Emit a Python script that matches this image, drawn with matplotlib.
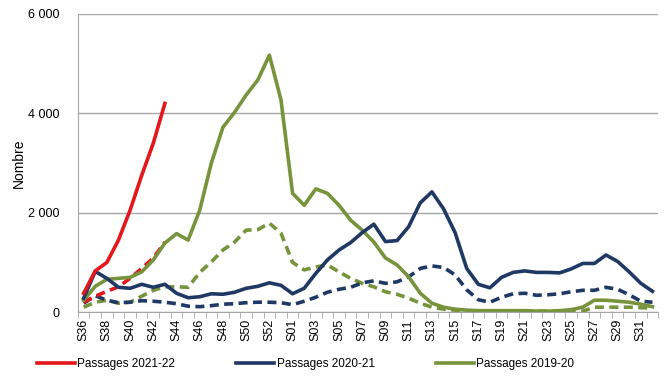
import matplotlib
matplotlib.use("Agg")
import matplotlib.pyplot as plt
from matplotlib.ticker import FuncFormatter, FixedLocator
import numpy as np

plt.rcParams['font.family'] = ['Liberation Sans', 'DejaVu Sans']

weeks = ['S%02d' % w for w in range(36, 54)] + ['S%02d' % w for w in range(1, 33)]

# passages (solid) and second indicator (dashed)
red_solid = [380, 830, 1000, 1450, 2050, 2750, 3400, 4200]
red_dashed = [200, 320, 420, 510, 680, 880, 1090, 1410]

navy_solid = [280, 820, 680, 500, 480, 560, 500, 560, 380, 290,
              310, 370, 360, 400, 480, 520, 590, 540, 370, 480,
              780, 1050, 1250, 1400, 1600, 1770, 1420, 1440, 1720, 2200,
              2420, 2080, 1600, 880, 560, 490, 700, 800, 830, 800,
              800, 790, 870, 980, 980, 1150, 1020, 810, 580, 420]
navy_dashed = [180, 330, 240, 190, 200, 230, 220, 200, 170, 120,
               110, 130, 160, 170, 190, 200, 200, 190, 150, 220,
               300, 400, 460, 500, 590, 630, 580, 610, 710, 880,
               930, 900, 750, 450, 250, 200, 300, 370, 380, 340,
               350, 370, 410, 440, 440, 500, 460, 350, 220, 200]

green_solid = [240, 520, 660, 680, 700, 810, 1050, 1390, 1580, 1450,
               2050, 3000, 3720, 4020, 4370, 4670, 5170, 4270, 2390, 2150,
               2480, 2390, 2150, 1850, 1650, 1410, 1090, 950, 710, 380,
               180, 100, 60, 40, 30, 30, 30, 30, 30, 20,
               20, 30, 50, 100, 240, 240, 220, 200, 160, 110]
green_dashed = [100, 200, 240, 180, 200, 320, 440, 510, 510, 500,
                800, 1010, 1250, 1410, 1650, 1660, 1790, 1590, 1000, 850,
                910, 950, 810, 680, 580, 510, 410, 360, 280, 180,
                100, 60, 40, 30, 20, 20, 20, 20, 20, 20,
                20, 20, 20, 20, 100, 100, 100, 100, 90, 80]

RED = '#e3171c'
NAVY = '#1f3864'
GREEN = '#77933c'

fig = plt.figure(figsize=(6.71, 3.77), dpi=100)
ax = fig.add_axes([0.116, 0.172, 0.865, 0.791])

x = np.arange(len(weeks))
dash = (0, (2.5, 1.5))
lw = 2.6

ax.plot(x, green_dashed, color=GREEN, lw=lw, linestyle=dash)
ax.plot(x, navy_dashed, color=NAVY, lw=lw, linestyle=dash)
ax.plot(x[:len(red_dashed)], red_dashed, color=RED, lw=lw, linestyle=dash)
ax.plot(x, green_solid, color=GREEN, lw=lw, label='Passages 2019-20')
ax.plot(x, navy_solid, color=NAVY, lw=lw, label='Passages 2020-21')
ax.plot(x[:len(red_solid)], red_solid, color=RED, lw=lw, label='Passages 2021-22')

ax.set_xlim(-0.5, len(weeks) - 0.5)
ax.set_ylim(0, 6000)
ax.set_yticks([0, 2000, 4000, 6000])
ax.yaxis.set_major_formatter(FuncFormatter(lambda v, p: '{:,}'.format(int(v)).replace(',', ' ')))
ax.grid(axis='y', color='#a6a6a6', lw=1)
ax.set_axisbelow(True)
ax.tick_params(axis='y', length=0, labelsize=9, pad=13)
ax.set_ylabel('Nombre', fontsize=10, labelpad=2)

ax.set_xticks(x[::2])
ax.set_xticklabels(weeks[::2], rotation=90, fontsize=9)
ax.xaxis.set_minor_locator(FixedLocator(np.arange(-0.5, len(weeks), 1)))
ax.tick_params(axis='x', which='major', length=0, pad=5)
ax.tick_params(axis='x', which='minor', length=4, color='#a6a6a6')

for s in ['top', 'right']:
    ax.spines[s].set_visible(False)
for s in ['left', 'bottom']:
    ax.spines[s].set_color('#a6a6a6')

h, l = ax.get_legend_handles_labels()
fig.legend(h[::-1], l[::-1], loc='center left', bbox_to_anchor=(37 / 671, 1 - 364 / 377),
           ncol=3, frameon=False, fontsize=8.5, handlelength=3.2,
           columnspacing=5.2, handletextpad=0.2, borderpad=0, borderaxespad=0)

fig.savefig('out.png', dpi=100)
